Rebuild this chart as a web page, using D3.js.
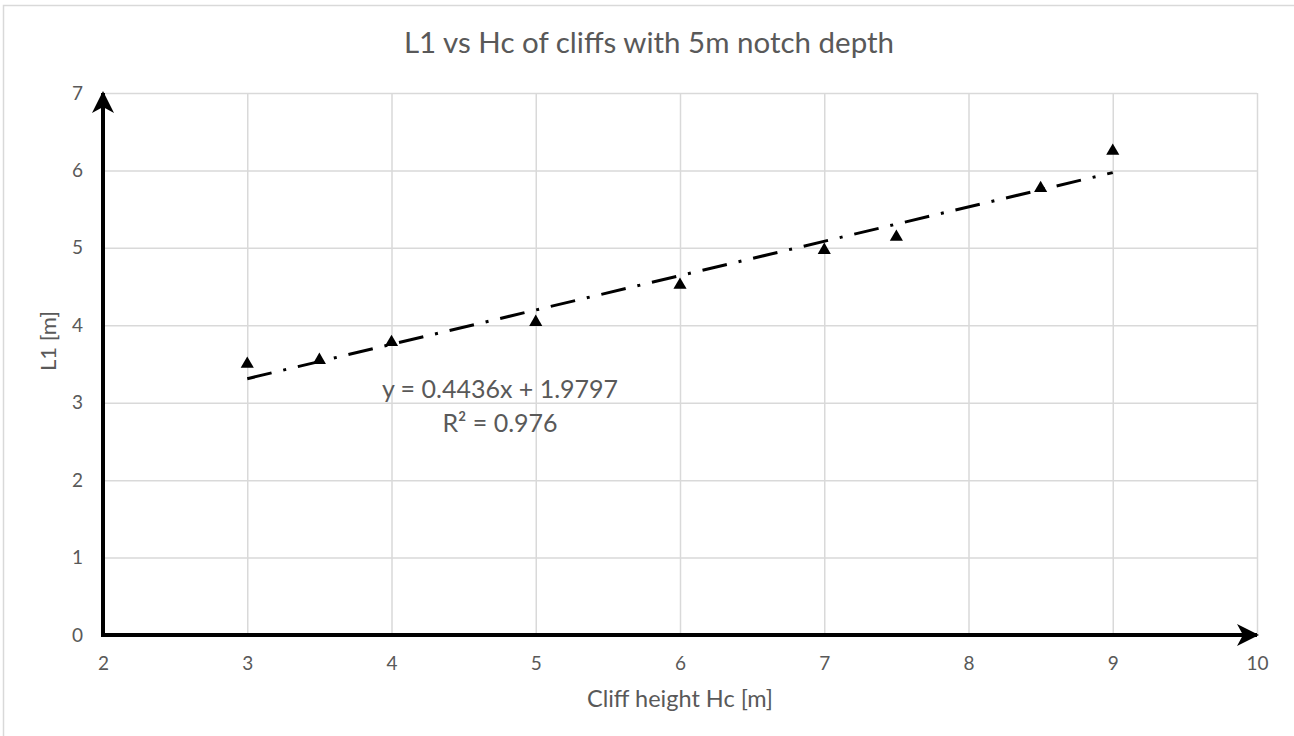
<!DOCTYPE html>
<html>
<head>
<meta charset="utf-8">
<script src="https://cdn.jsdelivr.net/npm/d3@7"></script>
<style>
  body { margin: 0; background: #fff; }
  text { font-family: Lato, "Open Sans", sans-serif; fill: #595959; }
</style>
</head>
<body>
<div id="chart"></div>
<script>
// data
var heightHc = [3, 3.5, 4, 5, 6, 7, 7.5, 8.5, 9];
var lengthL1 = [3.5, 3.55, 3.78, 4.04, 4.52, 4.97, 5.14, 5.77, 6.25];
var xTicks = [2, 3, 4, 5, 6, 7, 8, 9, 10];
var yTicks = [0, 1, 2, 3, 4, 5, 6, 7];
var slope = 0.4436;
var intercept = 1.9797;
var rSquared = 0.976;

var svgW = 1294;
var svgH = 736;

var margin = { left: 103, right: 37, top: 93, bottom: 101 };
var chartW = svgW - margin.left - margin.right;
var chartH = svgH - margin.top - margin.bottom;

var svg = d3.select("#chart")
    .append("svg")
    .attr("width", svgW)
    .attr("height", svgH);

// outer frame
svg.append("rect")
    .attr("x", 3.5).attr("y", 5.5)
    .attr("width", 1300).attr("height", 740)
    .attr("fill", "none")
    .attr("stroke", "#d9d9d9")
    .attr("stroke-width", 1.5);

var defs = svg.append("defs");
defs.append("marker")
    .attr("id", "arrow")
    .attr("viewBox", "0 0 22 22")
    .attr("refX", 20).attr("refY", 11)
    .attr("markerWidth", 22).attr("markerHeight", 22)
    .attr("markerUnits", "userSpaceOnUse")
    .attr("orient", "auto")
    .append("path")
    .attr("d", "M0,0 L22,11 L0,22 L6,11 Z")
    .attr("fill", "#000");

var g = svg.append("g")
    .attr("transform", `translate(${margin.left}, ${margin.top})`);

var xScale = d3.scaleLinear().domain([2, 10]).range([0, chartW]);
var yScale = d3.scaleLinear().domain([0, 7]).range([chartH, 0]);

// gridlines
g.append("g")
    .attr("class", "grid")
    .attr("transform", `translate(0, ${chartH})`)
    .call(d3.axisBottom(xScale).tickValues(xTicks.slice(1)).tickSize(-chartH).tickFormat(""))
    .call(a => a.select(".domain").remove())
    .selectAll("line").attr("stroke", "#d9d9d9").attr("stroke-width", 1.5);

g.append("g")
    .attr("class", "grid")
    .call(d3.axisLeft(yScale).tickValues(yTicks.slice(1)).tickSize(-chartW).tickFormat(""))
    .call(a => a.select(".domain").remove())
    .selectAll("line").attr("stroke", "#d9d9d9").attr("stroke-width", 1.5);

// tick labels
var xAxis = g.append("g")
    .attr("transform", `translate(0, ${chartH})`)
    .call(d3.axisBottom(xScale).tickValues(xTicks).tickFormat(d3.format("d")).tickSize(0).tickPadding(22));
xAxis.select(".domain").remove();
xAxis.selectAll("text").style("font-size", "19px").attr("fill", "#595959");

var yAxis = g.append("g")
    .call(d3.axisLeft(yScale).tickValues(yTicks).tickFormat(d3.format("d")).tickSize(0).tickPadding(20));
yAxis.select(".domain").remove();
yAxis.selectAll("text").style("font-size", "19px").attr("fill", "#595959");

// arrow axes
g.append("line")
    .attr("x1", xScale(2)).attr("y1", yScale(0))
    .attr("x2", xScale(10)).attr("y2", yScale(0))
    .attr("stroke", "#000").attr("stroke-width", 4)
    .attr("marker-end", "url(#arrow)");

g.append("line")
    .attr("x1", xScale(2)).attr("y1", yScale(0) + 2)
    .attr("x2", xScale(2)).attr("y2", yScale(7))
    .attr("stroke", "#000").attr("stroke-width", 4)
    .attr("marker-end", "url(#arrow)");

// trendline
g.append("line")
    .attr("x1", xScale(d3.min(heightHc)))
    .attr("y1", yScale(slope * d3.min(heightHc) + intercept))
    .attr("x2", xScale(d3.max(heightHc)))
    .attr("y2", yScale(slope * d3.max(heightHc) + intercept))
    .attr("stroke", "#000")
    .attr("stroke-width", 3)
    .attr("stroke-dasharray", "25,12,3,12");

// markers
g.selectAll(".pt")
    .data(heightHc)
    .enter()
    .append("path")
    .attr("class", "pt")
    .attr("d", d3.symbol().type(d3.symbolTriangle).size(75))
    .attr("transform", (d, i) => `translate(${xScale(d)}, ${yScale(lengthL1[i])})`)
    .attr("fill", "#000");

// equation
g.append("text")
    .attr("x", 500 - margin.left)
    .attr("y", 398 - margin.top)
    .attr("text-anchor", "middle")
    .style("font-size", "25px")
    .text(`y = ${slope}x + ${intercept}`);

g.append("text")
    .attr("x", 500 - margin.left)
    .attr("y", 432 - margin.top)
    .attr("text-anchor", "middle")
    .style("font-size", "25px")
    .text(`R² = ${rSquared}`);

// title & axis labels
svg.append("text")
    .attr("x", 649)
    .attr("y", 53)
    .attr("text-anchor", "middle")
    .style("font-size", "29.5px")
    .text("L1 vs Hc of cliffs with 5m notch depth");

svg.append("text")
    .attr("transform", "rotate(-90)")
    .attr("x", -341)
    .attr("y", 56)
    .attr("text-anchor", "middle")
    .style("font-size", "22px")
    .text("L1 [m]");

svg.append("text")
    .attr("x", 680)
    .attr("y", 707)
    .attr("text-anchor", "middle")
    .style("font-size", "23.5px")
    .text("Cliff height Hc [m]");
</script>
</body>
</html>
